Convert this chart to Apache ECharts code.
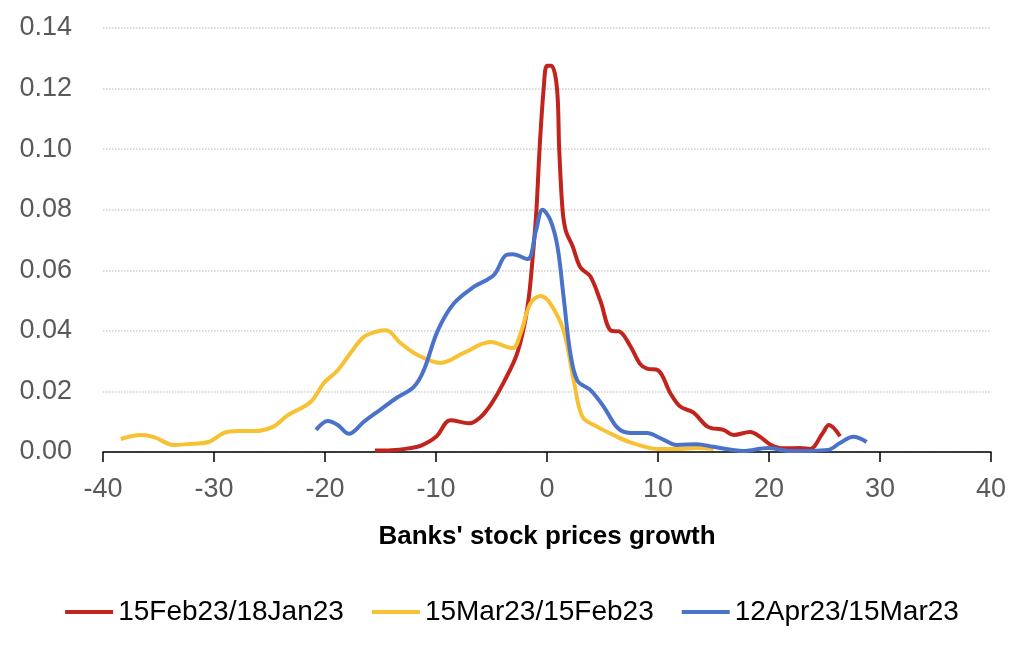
<!DOCTYPE html>
<html>
<head>
<meta charset="utf-8">
<script src="https://cdn.jsdelivr.net/npm/echarts@6/dist/echarts.min.js"></script>
<style>html,body{margin:0;padding:0;background:#fff}#c{width:1024px;height:645px}</style>
</head>
<body>
<div id="c"></div>
<script>
const seriesNames = ['15Feb23/18Jan23', '15Mar23/15Feb23', '12Apr23/15Mar23'];
const xTicks = [-40, 40, 10];
const yTicks = [0, 0.14, 0.02];

const redX = [-15.5,-14,-12.5,-11.4,-10,-8.7,-7,-6,-5,-3.9,-2.65,-1.75,-1.2,-0.95,-0.67,-0.3,0.0,0.4,0.9,1.1,1.4,1.7,2.3,3.0,3.9,4.8,5.8,6.5,7.5,8.4,9,10,11.1,12,13.2,14.5,15.9,16.8,18.3,19.2,20.1,21.3,22.8,23.7,24.8,25.4,26.4];
const redY = [0.0005,0.0006,0.0012,0.002,0.005,0.0105,0.0095,0.0115,0.016,0.023,0.033,0.048,0.068,0.080,0.100,0.120,0.1275,0.1275,0.120,0.100,0.080,0.073,0.068,0.061,0.058,0.050,0.040,0.0398,0.035,0.029,0.0275,0.027,0.0195,0.015,0.013,0.0083,0.0073,0.0056,0.0066,0.005,0.0025,0.0012,0.0013,0.001,0.006,0.0089,0.0052];

const yellowX = [-38.4,-36.6,-35.4,-33.6,-32.4,-30.5,-29.1,-27.9,-26.4,-24.7,-23.4,-21.3,-20.1,-18.85,-17.7,-16.5,-15.3,-14.5,-13.2,-11.65,-9.6,-7.5,-5.1,-3.1,-2.4,-1.5,-0.6,0.3,1.5,2.4,3.2,4.55,6.0,7.5,10,12,13.5,15];
const yellowY = [0.0043,0.0056,0.0049,0.0023,0.0026,0.0033,0.0063,0.0069,0.0069,0.0083,0.012,0.0165,0.0228,0.027,0.0327,0.038,0.0398,0.0402,0.036,0.032,0.0294,0.0327,0.0363,0.0343,0.039,0.049,0.0515,0.049,0.040,0.0238,0.0116,0.0083,0.0056,0.0032,0.001,0.001,0.0013,0.001];

const blueX = [-20.8,-19.75,-18.85,-17.85,-16.5,-15,-13.5,-12,-11.1,-9.85,-8.4,-6.6,-4.8,-3.7,-3.1,-1.75,-1.0,-0.4,0.3,0.95,1.5,2.1,2.75,3.9,5.1,6.35,7.5,9,10.2,11.7,13.5,15,17.7,19.9,21.9,25.3,26.4,27.6,28.8];
const blueY = [0.0073,0.0102,0.0089,0.006,0.010,0.014,0.018,0.0215,0.027,0.040,0.049,0.0545,0.0584,0.065,0.0653,0.0637,0.073,0.080,0.0766,0.0677,0.051,0.0327,0.0235,0.0205,0.015,0.008,0.0063,0.0063,0.0046,0.0023,0.0026,0.0017,0.0003,0.0013,0.0003,0.0007,0.003,0.005,0.0033];

const colors = ['#C0241C', '#F8C133', '#4A72C8'];
const zip = (xs, ys) => xs.map((x, i) => [x, ys[i]]);
const data = [zip(redX, redY), zip(yellowX, yellowY), zip(blueX, blueY)];

const chart = echarts.init(document.getElementById('c'));
const font = 'Liberation Sans, Arial, sans-serif';
chart.setOption({
  animation: false,
  textStyle: { fontFamily: font },
  grid: { left: 103, right: 33, top: 28, bottom: 193 },
  xAxis: {
    type: 'value', min: xTicks[0], max: xTicks[1], interval: xTicks[2],
    name: "Banks' stock prices growth", nameLocation: 'middle', nameGap: 72,
    nameTextStyle: { fontSize: 26, fontWeight: 'bold', color: '#000', fontFamily: font },
    axisLine: { onZero: false, lineStyle: { color: '#000', width: 1.5 } },
    axisTick: { show: true, length: 10, lineStyle: { color: '#000', width: 1.5 } },
    axisLabel: { fontSize: 27, color: '#595959', margin: 24, fontFamily: font },
    splitLine: { show: false }
  },
  yAxis: {
    type: 'value', min: yTicks[0], max: yTicks[1], interval: yTicks[2],
    axisLine: { show: false }, axisTick: { show: false },
    axisLabel: { fontSize: 27, color: '#595959', margin: 31, fontFamily: font,
      formatter: v => v.toFixed(2) },
    splitLine: { lineStyle: { color: '#D0D0D0', type: 'dotted', width: 1.5 } }
  },
  legend: {
    bottom: 14, left: 'center', itemWidth: 48, itemHeight: 4, itemGap: 28,
    icon: 'rect',
    textStyle: { fontSize: 28, color: '#000', fontFamily: font },
    data: seriesNames
  },
  series: seriesNames.map((n, i) => ({
    name: n, type: 'line', data: data[i], smooth: 0.35, showSymbol: false,
    color: colors[i], lineStyle: { width: 4, color: colors[i] }
  }))
});
</script>
</body>
</html>
